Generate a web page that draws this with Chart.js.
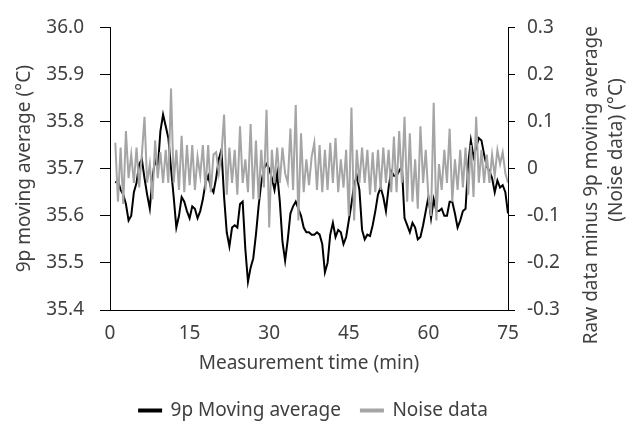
<!DOCTYPE html>
<html>
<head>
<meta charset="utf-8">
<script src="https://cdn.jsdelivr.net/npm/chart.js@4"></script>
<style>
  html, body { margin:0; padding:0; background:#fff; }
  #wrap { width:627px; height:424px; }
</style>
</head>
<body>
<div id="wrap"><canvas id="chart" width="627" height="424"></canvas></div>
<script>
// ── DATA ─────────────────────────────────────────────────────────
// samples every 0.5 min, starting at 1.0 min
const startMin = 1.0, stepMin = 0.5;
const seriesNames = ['9p Moving average', 'Noise data'];
const xTicks = [0, 15, 30, 45, 60, 75];

// 9p moving average (°C), left axis
const movingAvg = [
  35.67, 35.675, 35.655, 35.645, 35.625, 35.59, 35.60, 35.65, 35.67, 35.71,
  35.72, 35.68, 35.645, 35.615, 35.68, 35.72, 35.70, 35.78, 35.815, 35.79,
  35.765, 35.70, 35.64, 35.575, 35.60, 35.64, 35.63, 35.61, 35.595, 35.62,
  35.615, 35.595, 35.61, 35.635, 35.67, 35.685, 35.66, 35.65, 35.68, 35.72,
  35.74, 35.64, 35.565, 35.535, 35.575, 35.58, 35.575, 35.625, 35.63, 35.53,
  35.46, 35.49, 35.51, 35.56, 35.62, 35.67, 35.70, 35.71, 35.70, 35.68,
  35.655, 35.69, 35.63, 35.545, 35.505, 35.55, 35.605, 35.62, 35.63, 35.615,
  35.60, 35.575, 35.565, 35.565, 35.56, 35.56, 35.565, 35.56, 35.54, 35.48,
  35.50, 35.56, 35.585, 35.555, 35.57, 35.565, 35.54, 35.555, 35.59, 35.625,
  35.665, 35.685, 35.655, 35.57, 35.55, 35.56, 35.557, 35.58, 35.61, 35.645,
  35.66, 35.64, 35.61, 35.66, 35.695, 35.685, 35.685, 35.695, 35.705, 35.595,
  35.58, 35.565, 35.585, 35.575, 35.55, 35.555, 35.58, 35.61, 35.64, 35.595,
  35.635, 35.61, 35.61, 35.615, 35.60, 35.60, 35.63, 35.63, 35.605, 35.575,
  35.59, 35.61, 35.615, 35.71, 35.76, 35.725, 35.745, 35.765, 35.76, 35.73,
  35.705, 35.695, 35.68, 35.65, 35.675, 35.66, 35.665, 35.65, 35.605
];

// raw minus moving average (°C), right axis
const noise = [
  0.055, -0.07, 0.045, -0.075, 0.08, -0.02, 0.03, -0.03, 0.045, -0.04,
  0.03, 0.11, -0.03, 0.01, -0.065, 0.06, -0.02, 0.035, -0.03, 0.04,
  -0.03, 0.17, -0.03, 0.04, -0.045, 0.07, -0.05, 0.05, -0.035, 0.05,
  -0.045, 0.025, -0.015, 0.05, -0.045, 0.05, -0.05, 0.03, 0.035, -0.01,
  0.03, 0.115, -0.055, 0.045, -0.03, 0.04, -0.055, 0.09, -0.03, 0.02,
  -0.05, 0.095, -0.065, 0.06, -0.065, 0.04, -0.04, 0.125, -0.125, 0.04,
  -0.03, 0.045, -0.03, 0.045, -0.01, -0.03, 0.085, -0.045, 0.135, -0.11,
  0.075, -0.05, 0.02, -0.035, 0.025, 0.055, -0.045, 0.05, -0.05, 0.04,
  -0.045, 0.055, -0.03, 0.065, -0.05, 0.02, -0.04, 0.04, -0.1, 0.13,
  -0.11, 0.04, -0.03, 0.045, -0.03, 0.04, -0.055, 0.035, -0.05, 0.04,
  -0.045, 0.045, -0.03, 0.04, -0.05, 0.068, -0.05, 0.08, -0.03, 0.11,
  -0.07, 0.075, -0.07, 0.02, -0.085, 0.09, -0.03, 0.04, -0.06, -0.1,
  0.14, -0.11, 0.01, -0.045, 0.04, -0.03, 0.085, -0.07, 0.02, -0.045,
  0.04, -0.04, 0.045, -0.055, 0.05, -0.06, 0.11, -0.03, 0.04, -0.03,
  0.03, -0.03, 0.03, -0.015, 0.04, 0.01, 0.035, -0.01, -0.03
];

// ── CHART ────────────────────────────────────────────────────────
const FONT = "'Noto Sans', 'DejaVu Sans', sans-serif";
const TXT  = '#404040';
const FS   = 19;
Chart.defaults.font.family = FONT;
Chart.defaults.font.size   = FS;
Chart.defaults.color       = TXT;

const toPts = arr => arr.map((v, i) => ({ x: startMin + i * stepMin, y: v }));

// right axis title reads bottom-to-top (Chart.js would rotate it the other way)
const rightTitle = {
  id: 'rightTitle',
  afterDraw(chart) {
    const ctx = chart.ctx;
    ctx.save();
    ctx.fillStyle = TXT;
    ctx.font = FS + 'px ' + FONT;
    ctx.textBaseline = 'middle';
    // [text, centre x, anchor y, align]
    [['Raw data minus 9p moving average', 592, 26, 'right'],
     ['(Noise data) (°C)', 617, 150, 'center']].forEach(([t, x, y, al]) => {
      ctx.save();
      ctx.translate(x, y);
      ctx.rotate(-Math.PI / 2);
      ctx.textAlign = al;
      ctx.fillText(t, 0, 0);
      ctx.restore();
    });
    ctx.restore();
  }
};

new Chart(document.getElementById('chart'), {
  type: 'line',
  data: {
    datasets: [
      { label: seriesNames[0], data: toPts(movingAvg), yAxisID: 'y',  borderColor:'#000000', backgroundColor:'#000000', borderWidth:2, pointRadius:0, tension:0, order:2 },
      { label: seriesNames[1], data: toPts(noise),     yAxisID: 'y1', borderColor:'#a5a5a5', backgroundColor:'#a5a5a5', borderWidth:2, pointRadius:0, tension:0, order:1 }
    ]
  },
  options: {
    responsive:false, animation:false, maintainAspectRatio:false,
    layout:{ padding:{ top:22, left:0, right:0, bottom:-6 } },
    plugins:{
      tooltip:{ enabled:false },
      legend:{
        position:'bottom',
        labels:{ boxWidth:22, boxHeight:2, padding:20, color:TXT, font:{ size:FS },
                 sort:(a, b) => a.datasetIndex - b.datasetIndex }
      }
    },
    scales:{
      x:{
        type:'linear', min:0, max:75,
        afterBuildTicks: s => { s.ticks = xTicks.map(v => ({ value:v })); },
        grid:{ display:false, drawTicks:false },
        border:{ display:true, color:'#000', width:1 },
        ticks:{ padding:12, maxRotation:0, color:TXT },
        title:{ display:true, text:'Measurement time (min)', color:TXT, padding:{ top:0, bottom:6 } },
        afterFit: s => { s.height = 71; }
      },
      y:{
        position:'left', min:35.4, max:36.0,
        ticks:{ stepSize:0.1, padding:16, color:TXT, callback: v => v.toFixed(1) },
        grid:{ drawOnChartArea:false, drawTicks:true, tickLength:10, color:'#000' },
        border:{ display:true, color:'#000', width:1 },
        title:{ display:true, text:'9p moving average (°C)', color:TXT, padding:{ top:13, bottom:0 } },
        afterFit: s => { s.width = 110; }
      },
      y1:{
        position:'right', min:-0.3, max:0.3,
        ticks:{ stepSize:0.1, padding:12, color:TXT, callback: v => Math.abs(v) < 1e-9 ? '0' : (+v.toFixed(1)).toString() },
        grid:{ drawOnChartArea:false, drawTicks:true, tickLength:7, color:'#000' },
        border:{ display:true, color:'#000', width:1 },
        afterFit: s => { s.width = 119; }
      }
    }
  },
  plugins:[rightTitle]
});
</script>
</body>
</html>
